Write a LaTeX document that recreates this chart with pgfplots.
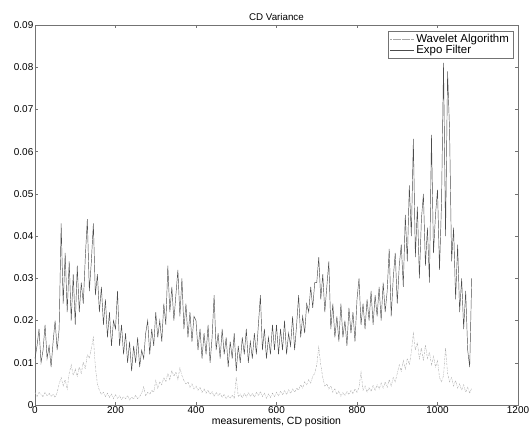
\documentclass[border=0pt]{standalone}
\usepackage{fontspec}
\setmainfont{Liberation Sans}
\usepackage{pgfplots}
\pgfplotsset{compat=1.18}
\definecolor{expo}{gray}{0.3}
\definecolor{wave}{gray}{0.66}
\definecolor{frame}{gray}{0.45}
\begin{document}
\begin{tikzpicture}
\useasboundingbox (-35bp,-29bp) rectangle (496bp,405bp);
\begin{axis}[
  scale only axis, width=483bp, height=380bp,
  xmin=0, xmax=1200, ymin=0, ymax=0.09,
  xtick={0,200,...,1200},
  ytick={0,0.01,0.02,0.03,0.04,0.05,0.06,0.07,0.08,0.09},
  yticklabels={0,0.01,0.02,0.03,0.04,0.05,0.06,0.07,0.08,0.09},
  scaled y ticks=false,
  /pgf/number format/assume math mode=true,
  /pgf/number format/1000 sep={},
  tick align=inside, major tick length=3bp,
  axis line style={frame, line width=0.6pt},
  tick style={frame, line width=0.5pt},
  ticklabel style={font=\fontsize{10}{10}\selectfont, inner sep=1.5bp},
  title={CD Variance}, title style={font=\fontsize{9.8}{9.8}\selectfont, yshift=-5bp},
  xlabel={measurements, CD position}, xlabel style={font=\fontsize{10.5}{10.5}\selectfont, inner sep=0pt, yshift=-1bp},
  legend style={at={(0.99,0.984)}, anchor=north east, draw=frame, line width=0.6pt, font=\fontsize{11.5}{11.5}\selectfont, inner xsep=2bp, inner ysep=1bp, row sep=-3bp, legend cell align=left},
  legend image code/.code={\path (0bp,0bp) -- (24bp,0bp); \draw[#1] (4bp,0bp) -- (23bp,0bp);},
]
\addplot[wave, line width=0.4pt, dash pattern=on 2pt off 1pt on 0.5pt off 1pt] coordinates {
(0,0.003)(5,0.002)(10,0.003)(15,0.0025)(20,0.002)(25,0.003)(30,0.0022)(35,0.0028)(40,0.002)(45,0.0026)(50,0.0018)(55,0.003)
(60,0.005)(65,0.0065)(70,0.0045)(75,0.006)(80,0.0038)(85,0.0075)(90,0.0095)(95,0.007)(100,0.0085)(105,0.0068)(110,0.009)(115,0.0075)
(120,0.0102)(125,0.0085)(130,0.012)(135,0.011)(140,0.0135)(145,0.016)(150,0.009)(155,0.005)(160,0.0035)(165,0.0025)(170,0.003)(175,0.002)
(180,0.0028)(185,0.0018)(190,0.0026)(195,0.0015)(200,0.0024)(205,0.0016)(210,0.0022)(215,0.0013)(220,0.002)(225,0.0015)(230,0.0022)(235,0.0012)
(240,0.0019)(245,0.0014)(250,0.0023)(255,0.0015)(260,0.002)(265,0.0028)(270,0.0043)(275,0.0022)(280,0.003)(285,0.0025)(290,0.0035)(295,0.003)
(300,0.0058)(305,0.004)(310,0.0055)(315,0.0048)(320,0.0065)(325,0.0055)(330,0.0075)(335,0.006)(340,0.0082)(345,0.0068)(350,0.0078)(355,0.006)
(360,0.0088)(365,0.007)(370,0.0058)(375,0.005)(380,0.0055)(385,0.0042)(390,0.005)(395,0.0038)(400,0.0045)(405,0.0035)(410,0.0042)(415,0.003)
(420,0.0038)(425,0.0028)(430,0.0035)(435,0.0025)(440,0.0032)(445,0.002)(450,0.003)(455,0.0022)(460,0.0028)(465,0.0018)(470,0.0025)(475,0.0015)
(480,0.0022)(485,0.0016)(490,0.0024)(495,0.0015)(500,0.0066)(505,0.002)(510,0.0026)(515,0.0017)(520,0.0028)(525,0.0019)(530,0.003)(535,0.002)
(540,0.0028)(545,0.0018)(550,0.003)(555,0.0022)(560,0.0032)(565,0.002)(570,0.0028)(575,0.0016)(580,0.0026)(585,0.0018)(590,0.0028)(595,0.002)
(600,0.003)(605,0.0022)(610,0.0032)(615,0.0024)(620,0.0034)(625,0.0025)(630,0.0036)(635,0.0028)(640,0.0038)(645,0.003)(650,0.004)(655,0.0035)
(660,0.0048)(665,0.004)(670,0.0055)(675,0.0048)(680,0.006)(685,0.0052)(690,0.0068)(695,0.0075)(700,0.0095)(705,0.0137)(710,0.0095)(715,0.0065)
(720,0.0045)(725,0.005)(730,0.0038)(735,0.0045)(740,0.003)(745,0.0038)(750,0.0025)(755,0.0033)(760,0.002)(765,0.003)(770,0.0022)(775,0.0032)
(780,0.0025)(785,0.0035)(790,0.0027)(795,0.0038)(800,0.003)(805,0.0042)(810,0.0078)(815,0.0035)(820,0.0045)(825,0.003)(830,0.0042)(835,0.0032)
(840,0.0046)(845,0.0035)(850,0.0048)(855,0.0038)(860,0.0052)(865,0.004)(870,0.0055)(875,0.0042)(880,0.006)(885,0.0045)(890,0.0065)(895,0.0055)
(900,0.0075)(905,0.0095)(910,0.008)(915,0.0105)(920,0.0085)(925,0.011)(930,0.0095)(935,0.0125)(940,0.017)(945,0.013)(950,0.0148)(955,0.011)
(960,0.0135)(965,0.0105)(970,0.0142)(975,0.011)(980,0.0125)(985,0.0095)(990,0.0115)(995,0.009)(1000,0.0105)(1005,0.0065)(1010,0.0055)(1015,0.007)
(1020,0.0135)(1025,0.0075)(1030,0.0055)(1035,0.0065)(1040,0.0045)(1045,0.0058)(1050,0.004)(1055,0.005)(1060,0.0035)(1065,0.0048)(1070,0.003)(1075,0.0042)
(1080,0.0028)(1085,0.004)
};
\addlegendentry{Wavelet Algorithm}
\addplot[expo, line width=0.45pt] coordinates {
(0,0.011)(5,0.014)(10,0.018)(15,0.010)(20,0.013)(25,0.019)(30,0.011)(35,0.014)(40,0.009)(45,0.015)(50,0.020)(55,0.013)
(60,0.018)(65,0.043)(70,0.024)(75,0.036)(80,0.022)(85,0.034)(90,0.020)(95,0.031)(100,0.019)(105,0.033)(110,0.022)(115,0.029)
(120,0.024)(125,0.035)(130,0.044)(135,0.027)(140,0.034)(145,0.043)(150,0.026)(155,0.031)(160,0.022)(165,0.028)(170,0.019)(175,0.025)
(180,0.016)(185,0.022)(190,0.014)(195,0.020)(200,0.018)(205,0.027)(210,0.014)(215,0.019)(220,0.012)(225,0.017)(230,0.010)(235,0.015)
(240,0.008)(245,0.014)(250,0.010)(255,0.016)(260,0.009)(265,0.013)(270,0.011)(275,0.017)(280,0.020)(285,0.012)(290,0.018)(295,0.014)
(300,0.022)(305,0.016)(310,0.020)(315,0.015)(320,0.024)(325,0.019)(330,0.033)(335,0.022)(340,0.028)(345,0.020)(350,0.026)(355,0.032)
(360,0.021)(365,0.030)(370,0.018)(375,0.024)(380,0.016)(385,0.022)(390,0.015)(395,0.021)(400,0.020)(405,0.013)(410,0.018)(415,0.011)
(420,0.017)(425,0.012)(430,0.019)(435,0.010)(440,0.016)(445,0.026)(450,0.013)(455,0.017)(460,0.011)(465,0.018)(470,0.012)(475,0.016)
(480,0.009)(485,0.015)(490,0.011)(495,0.017)(500,0.008)(505,0.014)(510,0.010)(515,0.016)(520,0.012)(525,0.018)(530,0.010)(535,0.015)
(540,0.011)(545,0.017)(550,0.012)(555,0.019)(560,0.026)(565,0.013)(570,0.018)(575,0.011)(580,0.016)(585,0.012)(590,0.019)(595,0.013)
(600,0.019)(605,0.012)(610,0.018)(615,0.013)(620,0.020)(625,0.012)(630,0.017)(635,0.014)(640,0.021)(645,0.013)(650,0.019)(655,0.026)
(660,0.016)(665,0.021)(670,0.017)(675,0.024)(680,0.022)(685,0.028)(690,0.023)(695,0.029)(700,0.029)(705,0.035)(710,0.025)(715,0.031)
(720,0.022)(725,0.028)(730,0.034)(735,0.018)(740,0.024)(745,0.016)(750,0.021)(755,0.015)(760,0.024)(765,0.016)(770,0.020)(775,0.014)
(780,0.023)(785,0.017)(790,0.022)(795,0.015)(800,0.025)(805,0.030)(810,0.019)(815,0.024)(820,0.018)(825,0.025)(830,0.020)(835,0.027)
(840,0.019)(845,0.026)(850,0.021)(855,0.028)(860,0.020)(865,0.029)(870,0.022)(875,0.027)(880,0.037)(885,0.021)(890,0.030)(895,0.036)
(900,0.024)(905,0.033)(910,0.038)(915,0.028)(920,0.045)(925,0.034)(930,0.052)(935,0.040)(940,0.063)(945,0.035)(950,0.047)(955,0.030)
(960,0.044)(965,0.050)(970,0.033)(975,0.042)(980,0.029)(985,0.064)(990,0.036)(995,0.045)(1000,0.051)(1005,0.032)(1010,0.048)(1015,0.081)
(1020,0.040)(1025,0.079)(1030,0.065)(1035,0.034)(1040,0.042)(1045,0.025)(1050,0.038)(1055,0.022)(1060,0.030)(1065,0.018)(1070,0.027)(1075,0.013)
(1080,0.009)(1085,0.030)
};
\addlegendentry{Expo Filter}
\end{axis}
\end{tikzpicture}
\end{document}
